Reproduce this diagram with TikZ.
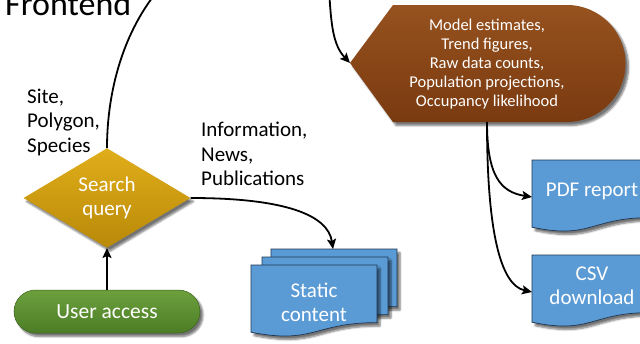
\documentclass[tikz,border=0pt]{standalone}
\usepackage{fontspec}
\setmainfont{Carlito}
\usetikzlibrary{shapes.geometric,shapes.misc,shadows.blur,arrows.meta}
\definecolor{brownA}{HTML}{96521F}
\definecolor{brownB}{HTML}{7A3A10}
\definecolor{goldA}{HTML}{E0AE1A}
\definecolor{goldB}{HTML}{B98908}
\definecolor{greenA}{HTML}{6CA03C}
\definecolor{greenB}{HTML}{4C7D26}
\definecolor{docblue}{HTML}{5B9BD5}
\definecolor{docline}{HTML}{1F3550}
\begin{document}
\begin{tikzpicture}[x=1pt,y=-1pt,
  shad/.style={blur shadow={shadow xshift=3pt,shadow yshift=-3.5pt,shadow blur steps=6,shadow opacity=55}},
  docstyle/.style={fill=docblue,draw=docline,line width=0.7pt,shad},
  lbl/.style={inner sep=0pt,font=\fontsize{21}{24.5}\selectfont,align=left},
  wtext/.style={text=white,inner sep=0pt,align=center},
  conn/.style={line width=1.8pt,draw=black},
  arr/.style={conn,-{Stealth[length=10pt,width=9pt,inset=2pt]}}]
\useasboundingbox (0,0) rectangle (640,343);
\begin{scope}
\clip (0,0) rectangle (640,343);

% title
\node[anchor=base west,inner sep=0pt,font=\fontsize{34}{40}\selectfont] (title) at (5,15) {Frontend};

% brown display shape
\path[shad,top color=brownA,bottom color=brownB]
  (350,63) -- (393,5) -- (567,5) arc[start angle=90,end angle=-90,radius=58.5pt] -- (393,122) -- cycle;
\coordinate (estL) at (350,63);
\coordinate (estB) at (487,122);
\node[wtext,font=\fontsize{16.5}{19}\selectfont] (est) at (487,64)
  {Model estimates,\\Trend figures,\\Raw data counts,\\Population projections,\\Occupancy likelihood};

% diamond
\node[diamond,minimum width=167pt,minimum height=85pt,inner sep=0pt,shad,
  top color=goldA,bottom color=goldB,text=white,align=center,
  font=\fontsize{21}{24.5}\selectfont] (query) at (107,198) {Search\\query};

% user access
\node[rounded rectangle,minimum width=186pt,minimum height=43pt,inner sep=0pt,shad,
  top color=greenA,bottom color=greenB,draw=greenB!80!black,line width=0.5pt,text=white,
  font=\fontsize{21.5}{24}\selectfont] (user) at (107,311.5) {User access};

% static content stack
\path[docstyle] (271,249) -- (397,249) -- (397,306.6) .. controls (334,306.6) and (334,328.7) .. (271,316.2) -- cycle;
\path[docstyle] (262,257) -- (388,257) -- (388,314.6) .. controls (325,314.6) and (325,336.7) .. (262,324.2) -- cycle;
\path[docstyle] (251,265) -- (377,265) -- (377,322.6) .. controls (314,322.6) and (314,344.7) .. (251,332.2) -- cycle;
\coordinate (statT) at (333,249);
\node[wtext,font=\fontsize{21}{24.5}\selectfont] (stat) at (314,302.5) {Static\\content};

% PDF report
\path[docstyle] (532,160) -- (650,160) -- (650,217.6) .. controls (591,217.6) and (591,239.7) .. (532,227.2) -- cycle;
\coordinate (pdfL) at (532,197);
\node[wtext,font=\fontsize{21}{24}\selectfont] (pdf) at (592,191) {PDF report};

% CSV download
\path[docstyle] (532,255) -- (650,255) -- (650,312.6) .. controls (591,312.6) and (591,334.7) .. (532,322.2) -- cycle;
\coordinate (csvL) at (532,292);
\node[wtext,font=\fontsize{21}{24.5}\selectfont] (csv) at (592,286) {CSV\\download};

% labels
\node[lbl,anchor=north west] (spl) at (27,88.5) {Site,\\Polygon,\\Species};
\node[lbl,anchor=north west] (inl) at (201,122) {Information,\\News,\\Publications};

% connectors
\coordinate (topA) at (160,-12);
\coordinate (topB) at (329,-12);
\draw[arr] (user.north) -- (query.south);
\draw[conn] (query.north) .. controls (107,90) and (124,30) .. (topA);
\draw[arr] (topB) .. controls (331,25) and (333,45) .. (estL);
\draw[arr] (query.east) .. controls (285,198) and (328,215) .. (statT);
\draw[arr] (estB) .. controls (487,175) and (500,192) .. (pdfL);
\draw[arr] (estB) .. controls (487,230) and (500,285) .. (csvL);
\end{scope}
\end{tikzpicture}
\end{document}
